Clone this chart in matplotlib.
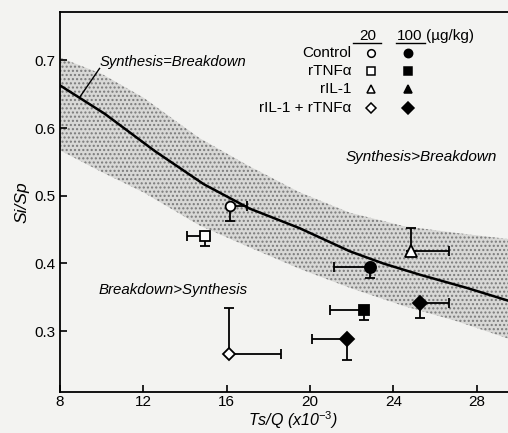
import matplotlib
matplotlib.use("Agg")
import matplotlib.pyplot as plt

# equilibrium line (Synthesis = Breakdown)
line_x = [8.0, 10.15, 12.55, 14.9, 17.1, 19.5, 21.9, 23.5, 25.3, 27.5, 29.5]
line_y = [0.663, 0.621, 0.566, 0.517, 0.481, 0.452, 0.418, 0.400, 0.383, 0.364, 0.345]

# stippled band edges
band_x = [8.0, 10.0, 12.0, 14.7, 17.0, 19.5, 21.9, 24.5, 27.0, 29.5]
band_hi = [0.704, 0.680, 0.645, 0.585, 0.545, 0.505, 0.475, 0.455, 0.445, 0.436]
band_lo = [0.567, 0.535, 0.505, 0.456, 0.425, 0.392, 0.364, 0.337, 0.315, 0.289]

# data points: group, dose, x, y, x-error (left, right), y-error (down, up)
groups = ["Control", "rTNFa", "rIL-1", "rIL-1+rTNFa",
          "Control", "rTNFa", "rIL-1", "rIL-1+rTNFa"]
doses = [20, 20, 20, 20, 100, 100, 100, 100]
pt_x = [16.17, 14.97, 24.83, 16.13, 22.87, 22.60, 25.29, 21.77]
pt_y = [0.485, 0.441, 0.419, 0.266, 0.394, 0.331, 0.342, 0.289]
xerr_lo = [0.0, 0.87, 0.0, 0.0, 1.70, 1.62, 0.0, 1.67]
xerr_hi = [0.80, 0.0, 1.86, 2.47, 0.0, 0.0, 1.37, 0.0]
yerr_lo = [0.022, 0.015, 0.0, 0.0, 0.015, 0.014, 0.022, 0.031]
yerr_hi = [0.0, 0.0, 0.034, 0.068, 0.0, 0.0, 0.0, 0.0]
markers = ["o", "s", "^", "D", "o", "s", "D", "D"]
msizes = [7, 6.5, 8, 6, 8, 7, 7, 7]

legend_names = ["Control", "rTNF\u03b1", "rIL-1", "rIL-1 + rTNF\u03b1"]
legend_marks = ["o", "s", "^", "D"]

plt.rcParams["font.family"] = ["Liberation Sans", "DejaVu Sans"]
plt.rcParams["mathtext.fontset"] = "custom"
plt.rcParams["mathtext.it"] = "Liberation Sans:italic"
plt.rcParams["mathtext.rm"] = "Liberation Sans"

bg = "#f3f3f1"
fig = plt.figure(figsize=(5.08, 4.33), dpi=100, facecolor=bg)
ax = fig.add_axes([0.118, 0.0947, 0.882, 0.877], facecolor=bg)

ax.fill_between(band_x, band_lo, band_hi, facecolor="#d8d8d6", edgecolor="#7a7a7a",
                hatch="....", linewidth=0, zorder=1)
ax.plot(line_x, line_y, color="black", lw=1.8, zorder=3)

for i in range(len(pt_x)):
    filled = doses[i] == 100
    ax.errorbar(pt_x[i], pt_y[i],
                xerr=[[xerr_lo[i]], [xerr_hi[i]]],
                yerr=[[yerr_lo[i]], [yerr_hi[i]]],
                fmt="none", ecolor="black", elinewidth=1.3, capsize=3.5,
                capthick=1.3, zorder=4)
    ax.plot(pt_x[i], pt_y[i], marker=markers[i], ms=msizes[i], mew=1.3,
            mec="black", mfc="black" if filled else "white",
            linestyle="none", zorder=5)

ax.set_xlim(8, 29.5)
ax.set_ylim(0.21, 0.771)
ax.set_xticks([8, 12, 16, 20, 24, 28])
ax.set_yticks([0.3, 0.4, 0.5, 0.6, 0.7])
ax.set_yticklabels(["0.3", "0.4", "0.5", "0.6", "0.7"])
ax.tick_params(direction="in", length=5, width=1.2, labelsize=11, pad=3)
ax.tick_params(axis="x", pad=2)
for s in ["left", "bottom", "top"]:
    ax.spines[s].set_linewidth(1.3)
ax.spines["right"].set_visible(False)

ax.set_xlabel("Ts/Q (x10$^{-3}$)", fontsize=11.5, style="italic")
ax.xaxis.set_label_coords(0.52, -0.045)
ax.set_ylabel("Si/Sp", fontsize=12.5, style="italic")
ax.yaxis.set_label_coords(-0.068, 0.5)

ax.text(9.9, 0.697, "Synthesis=Breakdown", fontsize=10.6, style="italic",
        va="center", ha="left")
ax.plot([8.96, 9.9], [0.646, 0.688], color="black", lw=1.0)
ax.text(21.7, 0.557, "Synthesis>Breakdown", fontsize=11, style="italic",
        va="center", ha="left")
ax.text(9.85, 0.36, "Breakdown>Synthesis", fontsize=10.8, style="italic",
        va="center", ha="left")

# hand-made legend in axes fraction
tr = ax.transAxes
ax.text(0.688, 0.937, "20", transform=tr, ha="center", va="center", fontsize=11)
ax.text(0.781, 0.937, "100", transform=tr, ha="center", va="center", fontsize=11)
ax.text(0.818, 0.937, "(\u00b5g/kg)", transform=tr, ha="left", va="center", fontsize=11)
ax.plot([0.655, 0.716], [0.918, 0.918], transform=tr, color="black", lw=1.0)
ax.plot([0.751, 0.814], [0.918, 0.918], transform=tr, color="black", lw=1.0)
rows_y = [0.892, 0.845, 0.797, 0.747]
for name, mk, ry in zip(legend_names, legend_marks, rows_y):
    ax.text(0.650, ry, name, transform=tr, ha="right", va="center", fontsize=11)
    ax.plot(0.694, ry, marker=mk, ms=5.5, mew=1.1, mec="black", mfc="white",
            transform=tr, linestyle="none")
    ax.plot(0.777, ry, marker=mk, ms=6, mew=1.1, mec="black", mfc="black",
            transform=tr, linestyle="none")

fig.savefig("out.png", dpi=100, facecolor=bg)
